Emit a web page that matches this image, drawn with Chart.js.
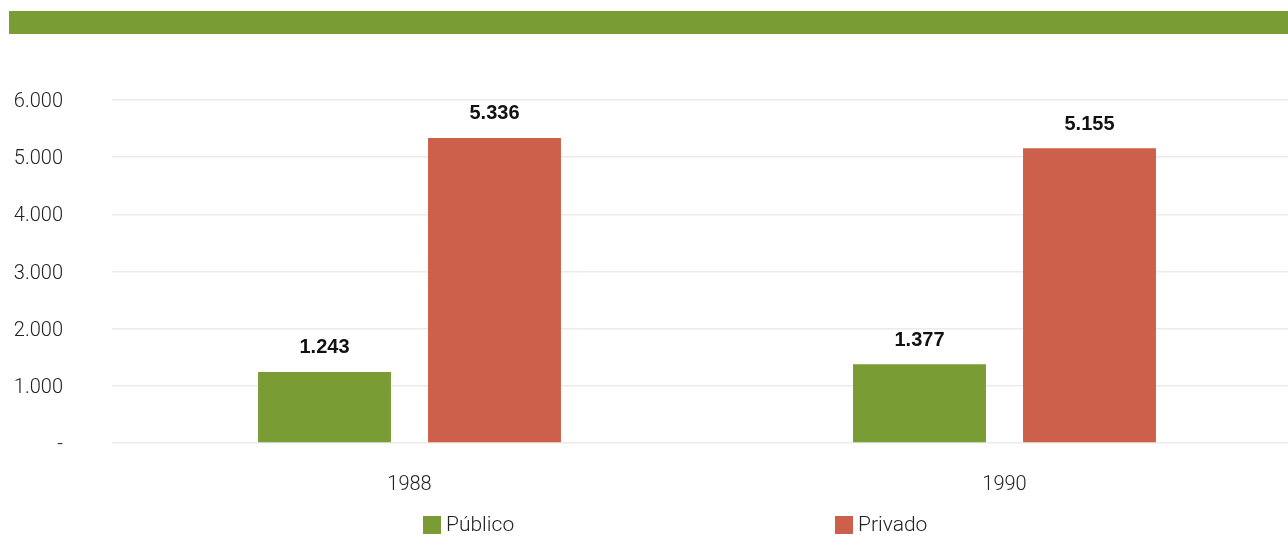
<!DOCTYPE html>
<html>
<head>
<meta charset="utf-8">
<script src="https://cdn.jsdelivr.net/npm/chart.js@4"></script>
<style>
    html, body { margin: 0; padding: 0; background: #ffffff; overflow: hidden; width: 1288px; height: 536px; }
    #topBar { position: absolute; left: 9px; top: 11px; width: 1279px; height: 23px; background: #799c34; }
    #chartBox { position: absolute; left: 0; top: 0; width: 1302px; height: 536px; }
</style>
</head>
<body>
<div id="topBar"></div>
<div id="chartBox"><canvas id="sectorChart"></canvas></div>
<script>
const years = ['1988', '1990'];
const publico = [1243, 1377];
const privado = [5336, 5155];
const seriesNames = ['Público', 'Privado'];
const seriesColors = ['#799c34', '#cd604a'];

// 1234 -> "1.234"
function fmt(v) {
    return String(Math.round(v)).replace(/\B(?=(\d{3})+(?!\d))/g, '.');
}

// bold numbers above each bar
const valueLabels = {
    id: 'valueLabels',
    afterDatasetsDraw(chart) {
        const c = chart.ctx;
        c.save();
        c.font = 'bold 20px "Liberation Sans", Arial, sans-serif';
        c.fillStyle = '#111111';
        c.textAlign = 'center';
        c.textBaseline = 'middle';
        chart.data.datasets.forEach((ds, i) => {
            chart.getDatasetMeta(i).data.forEach((bar, j) => {
                c.fillText(fmt(ds.data[j]), bar.x, bar.y - 24);
            });
        });
        c.restore();
    }
};

// legend spread out under the chart
const legendX = [423, 835];
const spreadLegend = {
    id: 'spreadLegend',
    afterDraw(chart) {
        const c = chart.ctx;
        c.save();
        c.font = '300 21px Roboto, "Liberation Sans", sans-serif';
        c.textBaseline = 'middle';
        c.textAlign = 'left';
        chart.data.datasets.forEach((ds, i) => {
            const x = legendX[i];
            c.fillStyle = ds.backgroundColor;
            c.fillRect(x, 516, 18, 18);
            c.fillStyle = '#222222';
            c.fillText(ds.label, x + 23, 526);
        });
        c.restore();
    }
};

const ctx = document.getElementById('sectorChart').getContext('2d');
new Chart(ctx, {
    type: 'bar',
    data: {
        labels: years,
        datasets: [{
            label: seriesNames[0],
            data: publico,
            backgroundColor: seriesColors[0],
            categoryPercentage: 0.5714,
            barPercentage: 0.782
        }, {
            label: seriesNames[1],
            data: privado,
            backgroundColor: seriesColors[1],
            categoryPercentage: 0.5714,
            barPercentage: 0.782
        }]
    },
    options: {
        responsive: true,
        maintainAspectRatio: false,
        animation: false,
        layout: {
            padding: { top: 100, left: 0, right: 0, bottom: 33 }
        },
        scales: {
            x: {
                grid: { display: false },
                border: { display: false },
                ticks: {
                    color: '#222222',
                    padding: 22,
                    font: { family: 'Roboto, "Liberation Sans", sans-serif', size: 20, weight: 300 }
                },
                afterFit: function(scale) { scale.height = 60; }
            },
            y: {
                min: 0,
                max: 6000,
                grid: { color: '#ebebeb', lineWidth: 1.5, drawTicks: false },
                border: { display: false },
                ticks: {
                    stepSize: 1000,
                    color: '#222222',
                    padding: 49,
                    labelOffset: 2,
                    font: { family: 'Roboto, "Liberation Sans", sans-serif', size: 20, weight: 300 },
                    callback: function(v) { return v === 0 ? '-' : fmt(v); }
                },
                afterFit: function(scale) { scale.width = 112; }
            }
        },
        plugins: {
            legend: { display: false },
            tooltip: { enabled: false }
        }
    },
    plugins: [valueLabels, spreadLegend]
});
</script>
</body>
</html>
